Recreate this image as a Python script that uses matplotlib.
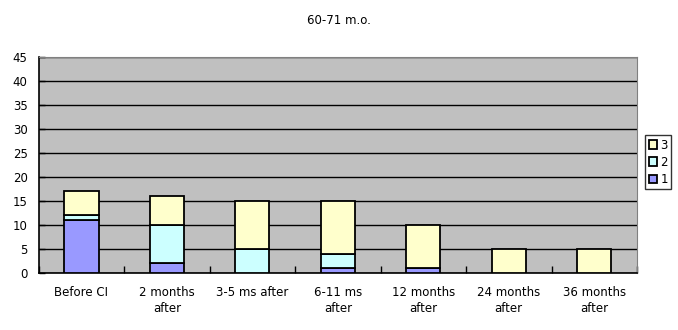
import numpy as np
import matplotlib
matplotlib.use("Agg")
import matplotlib.pyplot as plt

categories = ["Before CI", "2 months\nafter", "3-5 ms after", "6-11 ms\nafter",
              "12 months\nafter", "24 months\nafter", "36 months\nafter"]
s1 = [11, 2, 0, 1, 1, 0, 0]
s2 = [1, 8, 5, 3, 0, 0, 0]
s3 = [5, 6, 10, 11, 9, 5, 5]
yticks = list(range(0, 50, 5))

plt.rcParams["font.family"] = "DejaVu Sans"
plt.rcParams["font.size"] = 8.5

fig = plt.figure(figsize=(6.78, 3.30), dpi=100)
ax = fig.add_axes([38.7 / 678, 1 - 273 / 330, (637 - 38.7) / 678, (273 - 57) / 330])

x = np.arange(len(categories))
w = 0.4
kw = dict(width=w, edgecolor="black", linewidth=1.3, zorder=3)
b1 = ax.bar(x, s1, color="#9999FF", label="1", **kw)
b2 = ax.bar(x, s2, bottom=s1, color="#CCFFFF", label="2", **kw)
bot3 = np.array(s1) + np.array(s2)
b3 = ax.bar(x, s3, bottom=bot3, color="#FFFFCC", label="3", **kw)

ax.set_facecolor("#C0C0C0")
ax.set_xlim(-0.5, len(categories) - 0.5)
ax.set_ylim(0, 45)
ax.set_yticks(yticks)
ax.yaxis.grid(True, color="black", linewidth=1, zorder=1)
ax.set_axisbelow(True)

ax.set_xticks(x)
ax.set_xticklabels(categories, linespacing=1.35)
ax.tick_params(axis="x", length=0, pad=9)
ax.set_xticks(np.arange(len(categories) + 1) - 0.5, minor=True)
ax.tick_params(axis="x", which="minor", direction="in", length=5, width=1, color="black")
ax.tick_params(axis="y", direction="in", length=4, width=1, color="black", pad=8)

for side in ["top", "right"]:
    ax.spines[side].set_color("#808080")
for side in ["left", "bottom"]:
    ax.spines[side].set_color("black")
    ax.spines[side].set_linewidth(1.2)

fig.text(0.5, 1 - 20 / 330, "60-71 m.o.", ha="center", va="center", fontsize=8.5)

leg = fig.legend(handles=[b3, b2, b1], labels=["3", "2", "1"],
                 loc="upper left", bbox_to_anchor=(645 / 678, 1 - 135 / 330),
                 frameon=True, fancybox=False, edgecolor="black",
                 handlelength=0.7, handleheight=0.7, handletextpad=0.3,
                 borderpad=0.3, labelspacing=0.35, borderaxespad=0)
leg.get_frame().set_linewidth(1)

fig.savefig("out.png", dpi=100)
